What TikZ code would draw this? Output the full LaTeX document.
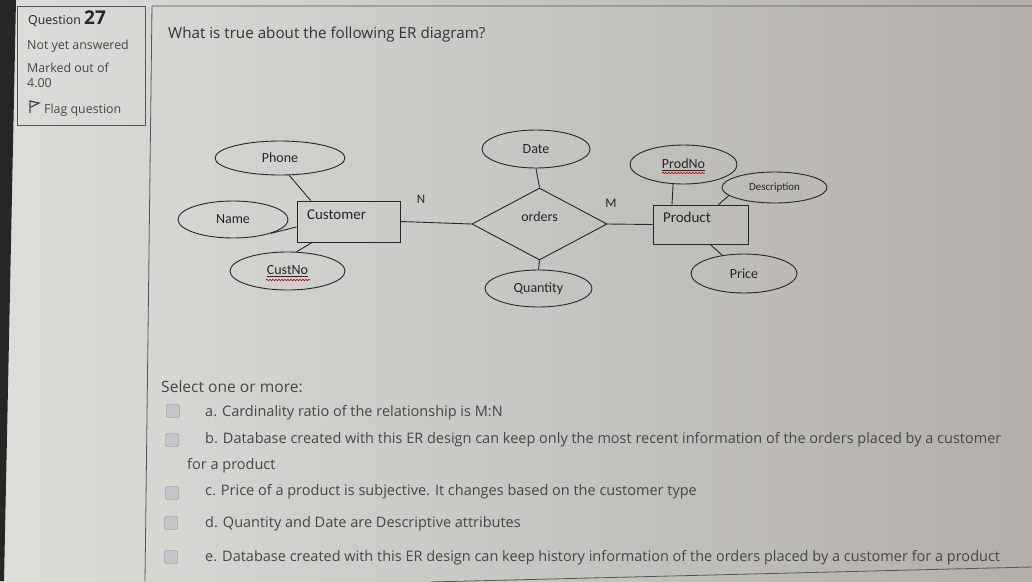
\documentclass[tikz,border=0pt]{standalone}
\usepackage{fontspec}
\setmainfont{Open Sans}
\newfontfamily\erfont{Carlito}
\usetikzlibrary{shapes.geometric,decorations.pathmorphing}
\definecolor{bgl}{RGB}{221,221,218}
\definecolor{bgr}{RGB}{178,175,170}
\definecolor{ink}{RGB}{70,70,74}
\definecolor{erline}{RGB}{38,38,38}
\definecolor{frame}{RGB}{85,85,85}
\definecolor{boxfill}{RGB}{196,198,204}
\definecolor{boxline}{RGB}{140,140,148}
\tikzset{
  attr/.style={ellipse,draw=erline,line width=0.9pt,inner sep=0pt,
    font=\erfont\fontsize{14}{16}\selectfont,text=erline},
  ent/.style={rectangle,draw=erline,line width=0.9pt,inner xsep=10pt,
    align=left,text height=10pt,text depth=14pt,
    font=\erfont\fontsize{15}{17}\selectfont,text=erline},
  rel/.style={diamond,draw=erline,line width=0.9pt,inner sep=0pt,
    minimum width=135pt,minimum height=72pt,text height=10pt,text depth=15pt,
    font=\erfont\fontsize{14}{16}\selectfont,text=erline},
  card/.style={font=\erfont\fontsize{13}{15}\selectfont,text=erline},
  chk/.style={rectangle,rounded corners=2pt,fill=boxfill,draw=boxline,
    minimum size=13pt,inner sep=0pt},
  opt/.style={anchor=base west,inner sep=0pt,text=ink,
    font=\fontsize{14.5}{16}\selectfont},
  side/.style={anchor=base west,inner sep=0pt,text=ink,
    font=\fontsize{12.4}{14}\selectfont}
}
\begin{document}
\begin{tikzpicture}[x=1pt,y=-1pt]
  \useasboundingbox (0,0) rectangle (1032,581);
  % background
  \shade[left color=bgl,right color=bgr] (0,0) rectangle (1032,581);
  \fill[black!85] (0,0) -- (16,0) -- (4,581) -- (0,581) -- cycle;
  % info panel
  \draw[frame,line width=0.8pt] (17,6) rectangle (145,125);
  \draw
    (28,24) node[side,text=black!85] (qnum){Question \textbf{\fontsize{19}{20}\selectfont 27}}
    (27,49) node[side] (state){Not yet answered}
    (27,72) node[side] (mark){Marked out of}
    (27,87) node[side] (grade){4.00}
    (44,113) node[side] (flag){Flag question};
  \draw[ink,line width=1.3pt] (30,113) -- (30,101) -- (39,103) -- (31,107);
  % question frame
  \draw[frame,line width=0.8pt] (1032,6) -- (152,6) -- (145,581);
  \draw (168,38) node[opt,text=black!80,font=\fontsize{15.2}{17}\selectfont]
    (title){What is true about the following ER diagram?};
  % ER diagram
  \draw
    (280,158) node[attr,minimum width=130pt,minimum height=34pt] (phone){Phone}
    (233,219.5) node[attr,minimum width=110pt,minimum height=37pt] (name){Name}
    (287.5,271) node[attr,minimum width=115pt,minimum height=38pt] (custno){\underline{CustNo}}
    (348.5,221.5) node[ent,text width=83pt,minimum height=41pt] (cust){Customer}
    (539.5,224) node[rel] (orders){orders}
    (536,149) node[attr,minimum width=108pt,minimum height=38pt] (date){Date}
    (538.5,288.5) node[attr,minimum width=107pt,minimum height=37pt] (qty){Quantity}
    (700.5,224.5) node[ent,text width=75pt,minimum height=39pt] (prod){Product}
    (683.5,164.5) node[attr,minimum width=107pt,minimum height=39pt] (prodno){\underline{ProdNo}}
    (774.5,187.5) node[attr,minimum width=105pt,minimum height=31pt,
      font=\erfont\fontsize{11}{13}\selectfont] (desc){Description}
    (744,273.5) node[attr,minimum width=106pt,minimum height=39pt] (price){Price}
    (421,199) node[card] (n){N}
    (611,203) node[card] (m){M};
  \begin{scope}[erline,line width=0.9pt]
    \draw (phone.-62) to (cust.151);
    \draw (name.-20) to (cust.186);
    \draw (custno.65) to (cust.210);
    \draw (cust.east) to (orders.west);
    \draw (date.south) to (orders.north);
    \draw (orders.south) to (qty.north);
    \draw (orders.east) to (prod.west);
    \draw (prodno.-118) to (prod.145);
    \draw (desc.190) to (prod.48);
    \draw (price.140) to (prod.-64);
  \end{scope}
  \begin{scope}[red!75!black,line width=0.6pt,
      decorate,decoration={snake,amplitude=0.8pt,segment length=3pt}]
    \draw[decorate] (266,280) -- (310,280);
    \draw[decorate] (662,173) -- (705,173);
  \end{scope}
  % answers
  \draw
    (161,392) node[opt,font=\fontsize{15.6}{17}\selectfont] (sel){Select one or more:}
    (173,411) node[chk] (ba){}
    (172,440) node[chk] (bb){}
    (172,493) node[chk] (bc){}
    (171,523) node[chk] (bd){}
    (171,557) node[chk] (be){}
    (205,416) node[opt] (oa){a. Cardinality ratio of the relationship is M:N}
    (205,443) node[opt] (ob){b. Database created with this ER design can keep only the most recent information of the orders placed by a customer}
    (187,469) node[opt] (ob2){for a product}
    (205,495) node[opt] (oc){c. Price of a product is subjective. It changes based on the customer type}
    (205,527) node[opt] (od){d. Quantity and Date are Descriptive attributes}
    (205,561) node[opt] (oe){e. Database created with this ER design can keep history information of the orders placed by a customer for a product};
  \draw[frame,line width=0.8pt] (430,582) -- (1032,567);
\end{tikzpicture}
\end{document}
